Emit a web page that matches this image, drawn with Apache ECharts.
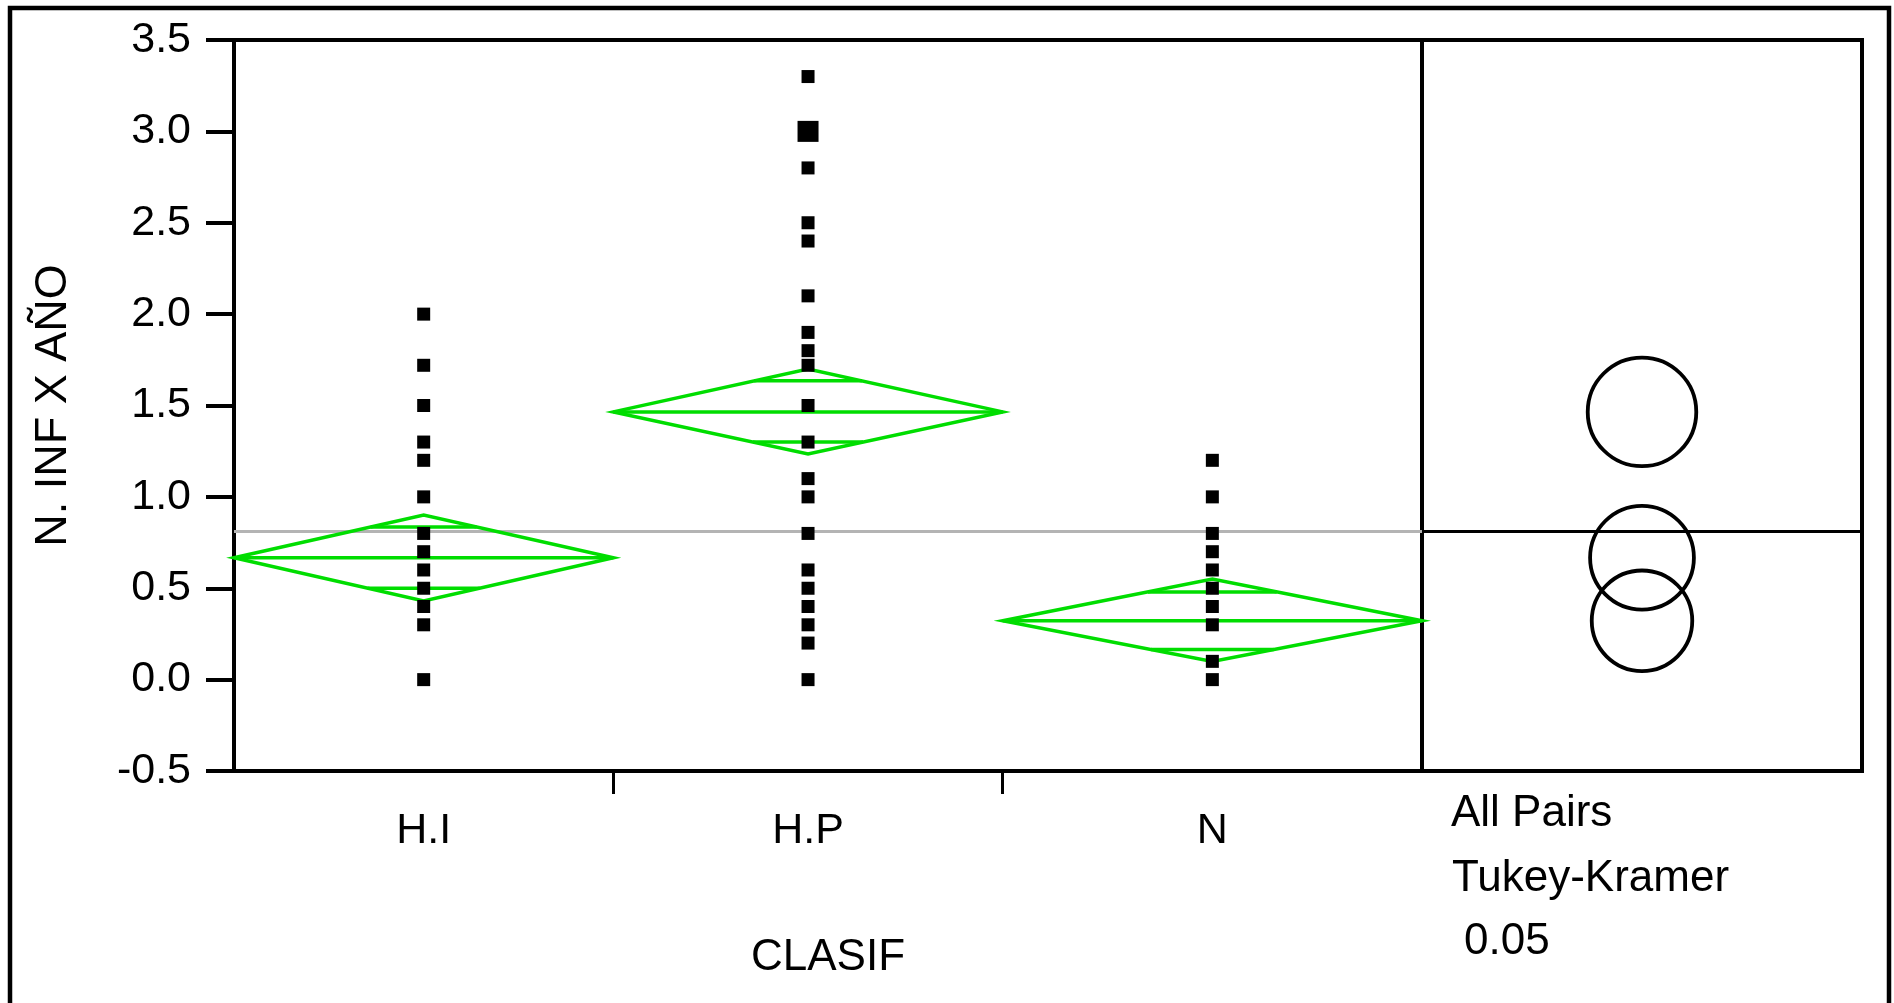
<!DOCTYPE html>
<html>
<head>
<meta charset="utf-8">
<title>N. INF X AÑO por CLASIF</title>
<script src="https://cdn.jsdelivr.net/npm/echarts@6.0.0/dist/echarts.min.js"></script>
<style>
  html, body { margin: 0; padding: 0; background: #fff; }
  #main { width: 1894px; height: 1003px; }
</style>
</head>
<body>
<div id="main"></div>
<script>
// grupos de CLASIF (ancho de cada grupo proporcional a su n)
var groups = ['H.I', 'H.P', 'N'];
var groupN = [38, 39, 42];

// valores observados de N. INF X AÑO
var hiValues = [2.0, 1.72, 1.5, 1.3, 1.2, 1.0, 0.8, 0.7, 0.6, 0.5, 0.4, 0.3, 0.0];
var hpValues = [3.3, 2.8, 2.5, 2.4, 2.1, 1.9, 1.8, 1.72, 1.5, 1.3, 1.1, 1.0, 0.8, 0.6, 0.5, 0.4, 0.3, 0.2, 0.0];
var hpBig = [3.0];
var nValues = [1.2, 1.0, 0.8, 0.7, 0.6, 0.5, 0.4, 0.3, 0.1, 0.0];

// diamantes de medias (media, IC 95%, marcas de solapamiento)
var means = [0.667, 1.465, 0.322];
var ciLow = [0.43, 1.235, 0.10];
var ciHigh = [0.90, 1.70, 0.55];
var markLow = [0.50, 1.30, 0.165];
var markHigh = [0.835, 1.635, 0.48];
var grandMean = 0.81;

// circulos de comparacion Tukey-Kramer
var circleRadius = [0.284, 0.297, 0.275];

var yMin = -0.5, yMax = 3.5, yStep = 0.5;
var noteLines = ['All Pairs', 'Tukey-Kramer', '0.05'];

var FONT = "'Liberation Sans', Arial, sans-serif";
var GREEN = '#00dd00';

var starts = [], ends = [], centers = [];
var acc = 0;
groupN.forEach(function (n) {
  starts.push(acc);
  ends.push(acc + n);
  centers.push(acc + n / 2);
  acc += n;
});
var total = acc;

function pts(i, vals) {
  return vals.map(function (v) { return [centers[i], v]; });
}

var chart = echarts.init(document.getElementById('main'), null, { renderer: 'canvas' });

var diamondData = groups.map(function (g, i) {
  return [starts[i], ends[i], means[i], ciLow[i], ciHigh[i], markLow[i], markHigh[i]];
});

function renderDiamond(params, api) {
  var s = api.value(0), e = api.value(1), m = api.value(2);
  var lo = api.value(3), hi = api.value(4), mlo = api.value(5), mhi = api.value(6);
  var c = (s + e) / 2, hw = (e - s) / 2;
  var style = { stroke: GREEN, lineWidth: 3.5, fill: null };
  var pL = api.coord([s, m]), pR = api.coord([e, m]);
  var pT = api.coord([c, hi]), pB = api.coord([c, lo]);
  function mark(v, edge) {
    var w = hw * (1 - (v - m) / (edge - m));
    var a = api.coord([c - w, v]), b = api.coord([c + w, v]);
    return { type: 'line', shape: { x1: a[0], y1: a[1], x2: b[0], y2: b[1] }, style: style };
  }
  return {
    type: 'group',
    children: [
      { type: 'polygon', shape: { points: [pL, pT, pR, pB] }, style: style },
      { type: 'line', shape: { x1: pL[0], y1: pL[1], x2: pR[0], y2: pR[1] }, style: style },
      mark(mhi, hi),
      mark(mlo, lo)
    ]
  };
}

function renderCircle(params, api) {
  var p = api.coord([api.value(0), api.value(1)]);
  var r = api.size([0, api.value(2)])[1];
  return {
    type: 'circle',
    shape: { cx: p[0], cy: p[1], r: r },
    style: { stroke: '#000', lineWidth: 3.8, fill: null }
  };
}

var option = {
  animation: false,
  backgroundColor: '#fff',
  textStyle: { fontFamily: FONT, color: '#000' },
  grid: [
    { left: 234, top: 40, width: 1188, height: 731, show: true, borderColor: '#000', borderWidth: 4, backgroundColor: 'transparent' },
    { left: 1422, top: 40, width: 440, height: 731, show: true, borderColor: '#000', borderWidth: 4, backgroundColor: 'transparent' }
  ],
  xAxis: [
    {
      type: 'value', gridIndex: 0, min: 0, max: total,
      name: 'CLASIF', nameLocation: 'middle', nameGap: 165,
      nameTextStyle: { fontSize: 44, color: '#000', fontFamily: FONT },
      axisLine: { show: true, onZero: false, lineStyle: { color: '#000', width: 4 } },
      axisTick: { show: true, customValues: [starts[1], starts[2]], length: 23, lineStyle: { color: '#000', width: 3 } },
      axisLabel: {
        customValues: centers, margin: 39, fontSize: 43, color: '#000', fontFamily: FONT,
        formatter: function (v) {
          for (var i = 0; i < centers.length; i++) {
            if (Math.abs(centers[i] - v) < 1e-6) return groups[i];
          }
          return '';
        }
      },
      splitLine: { show: false }
    },
    { type: 'value', gridIndex: 1, min: 0, max: 1, show: false }
  ],
  yAxis: [
    {
      type: 'value', gridIndex: 0, min: yMin, max: yMax, interval: yStep,
      name: 'N. INF X AÑO', nameLocation: 'middle', nameGap: 158,
      nameTextStyle: { fontSize: 45, color: '#000', fontFamily: FONT },
      axisLine: { show: true, onZero: false, lineStyle: { color: '#000', width: 4 } },
      axisTick: { show: true, length: 28, lineStyle: { color: '#000', width: 4 } },
      axisLabel: {
        margin: 43, fontSize: 43, color: '#000', fontFamily: FONT,
        formatter: function (v) { return v.toFixed(1); }
      },
      splitLine: { show: false }
    },
    { type: 'value', gridIndex: 1, min: yMin, max: yMax, interval: yStep, show: false }
  ],
  series: [
    {
      type: 'line', xAxisIndex: 0, yAxisIndex: 0, z: 1, symbol: 'none', silent: true,
      lineStyle: { color: '#b4b4b4', width: 3 },
      data: [[0, grandMean], [total, grandMean]]
    },
    {
      type: 'line', xAxisIndex: 1, yAxisIndex: 1, z: 1, symbol: 'none', silent: true,
      lineStyle: { color: '#000', width: 3 },
      data: [[0, grandMean], [1, grandMean]]
    },
    {
      type: 'custom', xAxisIndex: 0, yAxisIndex: 0, z: 2, silent: true,
      renderItem: renderDiamond, data: diamondData
    },
    {
      type: 'scatter', xAxisIndex: 0, yAxisIndex: 0, z: 3, symbol: 'rect', symbolSize: 13,
      itemStyle: { color: '#000', opacity: 1 },
      data: pts(0, hiValues).concat(pts(1, hpValues), pts(2, nValues))
    },
    {
      type: 'scatter', xAxisIndex: 0, yAxisIndex: 0, z: 3, symbol: 'rect', symbolSize: 21,
      itemStyle: { color: '#000', opacity: 1 },
      data: pts(1, hpBig)
    },
    {
      type: 'custom', xAxisIndex: 1, yAxisIndex: 1, z: 3, silent: true,
      renderItem: renderCircle,
      data: means.map(function (m, i) { return [0.5, m, circleRadius[i]]; })
    }
  ],
  graphic: [
    {
      type: 'rect', silent: true,
      shape: { x: 10, y: 8, width: 1879, height: 1030 },
      style: { fill: null, stroke: '#000', lineWidth: 4.5 }
    }
  ].concat(noteLines.map(function (t, i) {
    var xs = [1451, 1452, 1464];
    var ys = [814, 879, 942];
    return {
      type: 'text', x: xs[i], y: ys[i], silent: true,
      style: { text: t, fontSize: 44, fontFamily: FONT, fill: '#000', textVerticalAlign: 'middle' }
    };
  }))
};

chart.setOption(option);
</script>
</body>
</html>
